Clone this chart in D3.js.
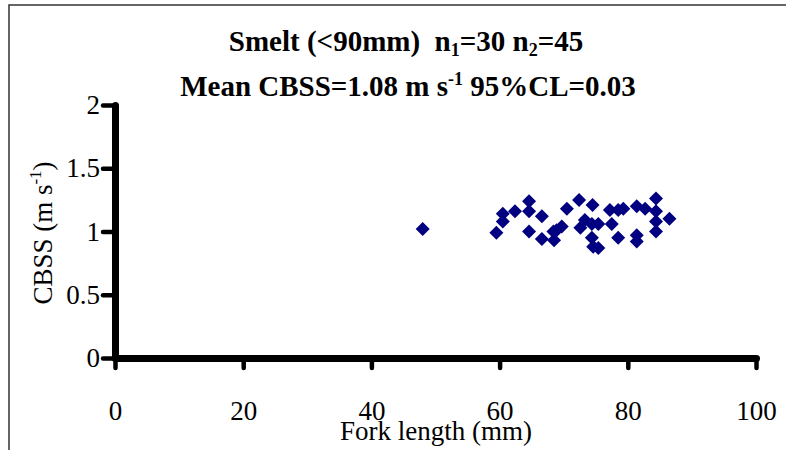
<!DOCTYPE html>
<html><head><meta charset="utf-8">
<script src="https://cdn.jsdelivr.net/npm/d3@7"></script>
<style>body{margin:0;background:#fff}svg{display:block}
svg text{font-family:"Liberation Serif","Times New Roman",Tinos,"DejaVu Serif",serif}</style>
</head><body>
<svg id="c" width="786" height="450"></svg>
<script>
const forkLength = [48, 59.5, 60.5, 60.5, 62.4, 64.6, 64.6, 66.6, 64.6, 66.6, 68.4, 68.5, 68.9, 69.7, 70.5, 72.4, 74.5, 72.6, 73.3, 74.4, 75.4, 74.4, 74.6, 75.4, 77.2, 77.5, 78.5, 79.3, 78.5, 81.4, 81.4, 81.4, 82.7, 84.4, 84.4, 84.4, 84.4, 86.5];
const cbss       = [1.02, 0.99, 1.14, 1.08, 1.16, 1.24, 1.16, 1.12, 1.00, 0.94, 1.00, 0.93, 1.01, 1.04, 1.18, 1.25, 1.21, 1.03, 1.09, 1.06, 1.06, 0.95, 0.88, 0.87, 1.17, 1.06, 1.17, 1.18, 0.95, 1.20, 0.97, 0.92, 1.18, 1.26, 1.16, 1.08, 1.00, 1.10];
const xTicks = [0, 20, 40, 60, 80, 100];
const yTicks = [0, 0.5, 1, 1.5, 2];

const svg = d3.select("#c");
const x = d3.scaleLinear().domain([0, 100]).range([115, 756]);
const y = d3.scaleLinear().domain([0, 2]).range([358, 105]);

// frame
svg.append("path").attr("d", "M9,450 L9,5 L786,5").attr("fill", "none").attr("stroke", "#333").attr("stroke-width", 1.5);

// titles
const t1 = svg.append("text").attr("x", 406).attr("y", 51).attr("text-anchor", "middle")
  .attr("font-weight", "bold").attr("font-size", 29).attr("xml:space", "preserve");
t1.append("tspan").text("Smelt (<90mm)  n");
t1.append("tspan").attr("font-size", 18).attr("dy", 5).text("1");
t1.append("tspan").attr("dy", -5).text("=30 n");
t1.append("tspan").attr("font-size", 18).attr("dy", 5).text("2");
t1.append("tspan").attr("dy", -5).text("=45");

const t2 = svg.append("text").attr("x", 408).attr("y", 96).attr("text-anchor", "middle")
  .attr("font-weight", "bold").attr("font-size", 29);
t2.append("tspan").text("Mean CBSS=1.08 m s");
t2.append("tspan").attr("font-size", 18).attr("dy", -11).text("-1");
t2.append("tspan").attr("dy", 11).text(" 95%CL=0.03");

// axes
const gx = svg.append("g").attr("transform", "translate(0,358)")
  .call(d3.axisBottom(x).tickValues(xTicks).tickSize(10).tickSizeOuter(0).tickPadding(33).tickFormat(d3.format("d")));
const gy = svg.append("g").attr("transform", "translate(115,0)")
  .call(d3.axisLeft(y).tickValues(yTicks).tickSize(12).tickSizeOuter(0).tickPadding(3).tickFormat(d => d));
[gx, gy].forEach(g => {
  g.attr("font-family", null);
  g.select(".domain").attr("stroke", "#000").attr("stroke-width", 7).attr("stroke-linecap", "round");
  g.selectAll(".tick line").attr("stroke", "#000").attr("stroke-width", 4.5).attr("stroke-linecap", "round");
  g.selectAll(".tick text").attr("font-size", 27).attr("fill", "#000");
});

// axis titles
svg.append("text").attr("x", 436).attr("y", 440).attr("text-anchor", "middle")
  .attr("font-size", 27).text("Fork length (mm)");
const yt = svg.append("text").attr("transform", "translate(52,233) rotate(-90)").attr("text-anchor", "middle")
  .attr("font-size", 27);
yt.append("tspan").text("CBSS (m s");
yt.append("tspan").attr("font-size", 17).attr("dy", -11).text("-1");
yt.append("tspan").attr("dy", 11).text(")");

// points
const r = 7;
svg.append("g").selectAll("path").data(forkLength.map((v, i) => [v, cbss[i]])).join("path")
  .attr("transform", d => `translate(${x(d[0])},${y(d[1])})`)
  .attr("d", `M0,${-r}L${r},0L0,${r}L${-r},0Z`)
  .attr("fill", "#000080");
</script>
</body></html>
